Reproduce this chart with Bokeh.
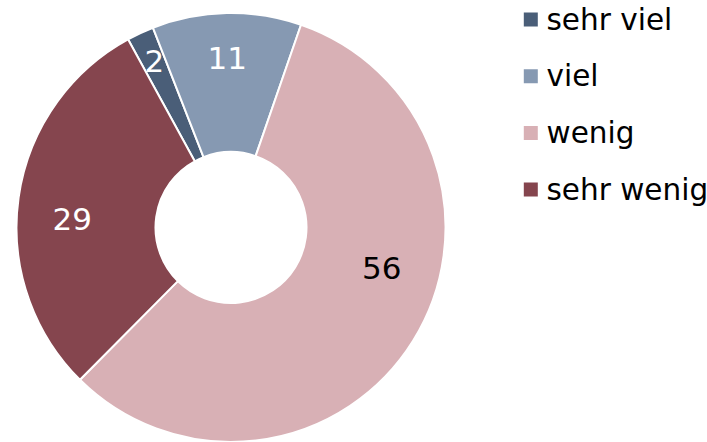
import math
from bokeh.plotting import figure
from bokeh.models import ColumnDataSource, Range1d
from bokeh.core.properties import value
from bokeh.embed import file_html
from bokeh.resources import INLINE

# ---- data ----
categories = ["sehr viel", "viel", "wenig", "sehr wenig"]
values = [2, 11, 56, 29]
colors = ["#4a5e78", "#8699b2", "#d8b0b5", "#85454e"]
label_colors = ["white", "white", "black", "white"]

# ---- layout / style ----
W, H = 707, 442
cx, cy = 230.5, 215.0
r_out, r_in = 214.5, 75.5
start_cw = -28.7                       # first slice starts here (deg, clockwise from 12 o'clock)
label_r = [183, 170, 156, 159]
label_shift = [0.3, -0.1, -17.0, -5.0]  # deg, shift from the slice's mid angle
FONT = "DejaVu Sans"

total = sum(values)
starts, ends, lx, ly = [], [], [], []
a = start_cw
for i, v in enumerate(values):
    span = v / total * 360.0
    a0, a1 = a, a + span
    starts.append(math.radians(90 - a0))
    ends.append(math.radians(90 - a1))
    mid = (a0 + a1) / 2 + label_shift[i]
    lx.append(cx + label_r[i] * math.sin(math.radians(mid)))
    ly.append(cy + label_r[i] * math.cos(math.radians(mid)))
    a = a1

src = ColumnDataSource(dict(start=starts, end=ends, color=colors,
                            lx=lx, ly=ly, txt=[str(v) for v in values],
                            tcolor=label_colors))

p = figure(width=W, height=H, x_range=Range1d(0, W), y_range=Range1d(0, H),
           output_backend="svg", toolbar_location=None, min_border=0,
           x_axis_type=None, y_axis_type=None)
p.outline_line_color = None
p.xgrid.visible = False
p.ygrid.visible = False

p.annular_wedge(x=cx, y=cy, inner_radius=r_in, outer_radius=r_out,
                start_angle="start", end_angle="end", direction="clock",
                fill_color="color", line_color="white", line_width=2,
                source=src)

p.text(x="lx", y="ly", text="txt", text_color="tcolor",
       text_font=value(FONT), text_font_size="31px",
       text_align="center", text_baseline="middle", source=src)

# legend
leg_x, leg_top, leg_dy = 530.3, 423.0, 56.7
lg = ColumnDataSource(dict(
    x=[leg_x] * len(categories),
    y=[leg_top - i * leg_dy for i in range(len(categories))],
    tx=[leg_x + 15.7] * len(categories),
    label=categories, color=colors))
p.scatter(x="x", y="y", marker="square", size=14, fill_color="color",
          line_color=None, source=lg)
p.text(x="tx", y="y", text="label", text_color="black",
       text_font=value(FONT), text_font_size="29.5px",
       text_align="left", text_baseline="middle", source=lg)

open("out.html", "w").write(file_html(p, INLINE))
